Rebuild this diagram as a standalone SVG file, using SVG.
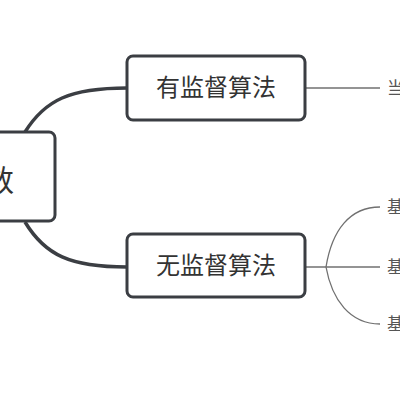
<svg xmlns="http://www.w3.org/2000/svg" width="400" height="400" viewBox="0 0 400 400">
<style>
.node{fill:#fff;stroke:#3b3e43;stroke-width:3}
.main{stroke:#3b3e43;stroke-width:3.5;fill:none}
.thin{stroke:#707070;stroke-width:1.3;fill:none}
.lbl{font-family:"Noto Sans CJK SC","Noto Sans",sans-serif;fill:#333}
.leaf{font-family:"Noto Sans CJK SC","Noto Sans",sans-serif;fill:#555;font-size:17px}
</style>
<rect width="400" height="400" fill="#fff"/>
<g id="connectors">
<path class="main" d="M25,132 C45,100 70,88 127,88"/>
<path class="main" d="M25,222 C45,255 70,267 127,267"/>
<path class="thin" d="M305,88 H380"/>
<path class="thin" d="M305,267 H380"/>
<path class="thin" d="M326,267 C332,230 350,207 380,207"/>
<path class="thin" d="M326,267 C332,300 350,324 380,324"/>
</g>
<g id="center">
<rect class="node" x="-30" y="132" width="85" height="89" rx="6"/>
<text class="lbl" x="14" y="191" font-size="30" text-anchor="end">数</text>
</g>
<g id="supervised">
<rect class="node" x="127" y="56" width="178" height="64" rx="6"/>
<text class="lbl" x="216" y="96" font-size="24" text-anchor="middle">有监督算法</text>
</g>
<g id="unsupervised">
<rect class="node" x="127" y="234" width="178" height="63" rx="6"/>
<text class="lbl" x="216" y="274" font-size="24" text-anchor="middle">无监督算法</text>
</g>
<g id="leaf1"><text class="leaf" x="387" y="94">当</text></g>
<g id="leaf2"><text class="leaf" x="387" y="213">基</text></g>
<g id="leaf3"><text class="leaf" x="387" y="273">基</text></g>
<g id="leaf4"><text class="leaf" x="387" y="330">基</text></g>
</svg>
